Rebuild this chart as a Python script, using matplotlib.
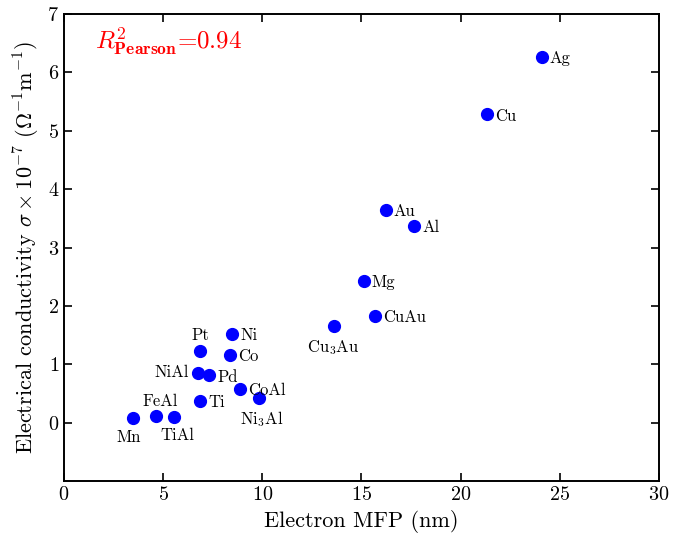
import matplotlib
matplotlib.use("Agg")
import matplotlib.pyplot as plt

plt.rcParams['font.family'] = 'serif'
plt.rcParams['font.serif'] = ['cmr10']
plt.rcParams['mathtext.fontset'] = 'cm'
plt.rcParams['axes.formatter.use_mathtext'] = True

metals = ['Ag', 'Cu', 'Au', 'Al', 'Mg', 'CuAu', 'Cu$_3$Au', 'Ni', 'Pt', 'Co',
          'NiAl', 'Pd', 'CoAl', 'Ni$_3$Al', 'Ti', 'FeAl', 'TiAl', 'Mn']
mfp = [24.09, 21.32, 16.22, 17.65, 15.11, 15.67, 13.60, 8.46, 6.86, 8.36,
       6.74, 7.33, 8.89, 9.85, 6.86, 4.62, 5.56, 3.48]
sigma = [6.27, 5.28, 3.64, 3.37, 2.43, 1.83, 1.66, 1.52, 1.23, 1.16,
         0.86, 0.81, 0.58, 0.43, 0.38, 0.12, 0.10, 0.08]

# label placement: offset in points and alignment
place = {
    'Cu$_3$Au': ((0, -9), 'center', 'top'),
    'Ni$_3$Al': ((2, -8), 'center', 'top'),
    'Mn': ((-3, -8), 'center', 'top'),
    'TiAl': ((2, -8), 'center', 'top'),
    'FeAl': ((3, 5), 'center', 'bottom'),
    'Pt': ((0, 6), 'center', 'bottom'),
    'NiAl': ((-6, 0), 'right', 'center'),
}

fig = plt.figure(figsize=(6.92, 5.4), dpi=100)
ax = fig.add_axes([0.0925, 0.109, 0.8595, 0.865])

ax.plot(mfp, sigma, 'o', color='blue', markersize=8.5, linestyle='none')

for name, x, y in zip(metals, mfp, sigma):
    off, ha, va = place.get(name, ((6, -1), 'left', 'center'))
    ax.annotate(name, (x, y), xytext=off, textcoords='offset points',
                ha=ha, va=va, fontsize=12)

ax.text(1.55, 6.52, r'$R^2_{\mathbf{Pearson}}$=0.94', color='red', fontsize=18,
        va='center', ha='left')

ax.set_xlim(0, 30)
ax.set_ylim(-1, 7)
ax.set_xticks(range(0, 31, 5))
ax.set_yticks(range(0, 8))
ax.tick_params(direction='in', top=True, right=True, labelsize=14.5, length=6, width=1.2)
for s in ax.spines.values():
    s.set_linewidth(1.4)

ax.set_xlabel('Electron MFP (nm)', fontsize=16)
ax.set_ylabel(r'Electrical conductivity $\sigma \times 10^{-7}$ ($\Omega^{-1}$m$^{-1}$)', fontsize=16)

fig.savefig('out.png', dpi=100)
